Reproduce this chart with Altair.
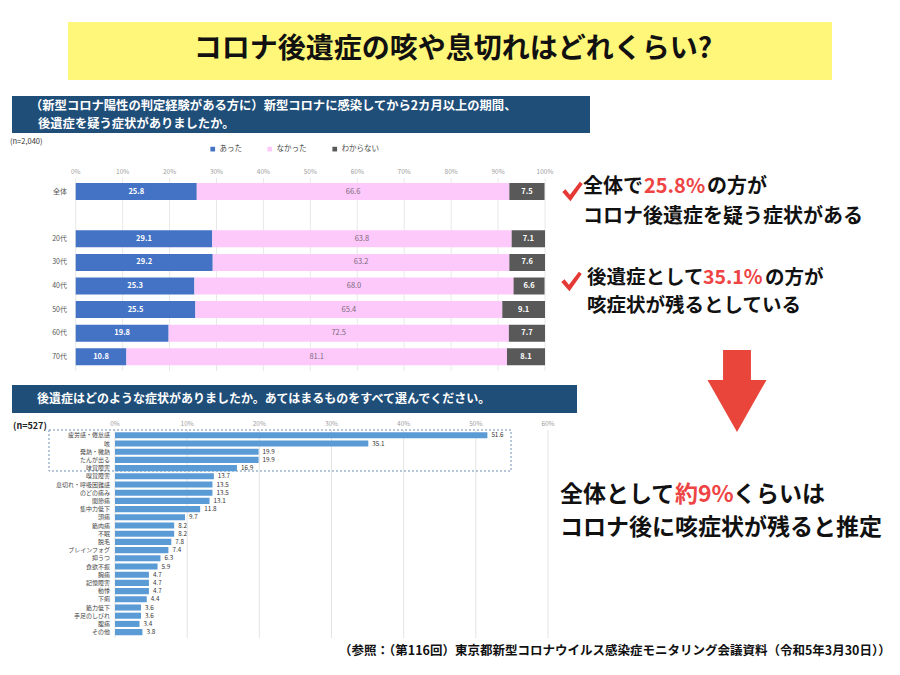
import altair as alt
import pandas as pd

FONT = "Noto Sans CJK JP"
OFF = 8


def P(v):
    return v - OFF


# ---------------- data ----------------
groups = ["全体", "20代", "30代", "40代", "50代", "60代", "70代"]
answers = ["あった", "なかった", "わからない"]
answer_colors = ["#4472c4", "#fdc9fa", "#595959"]
yes_vals = [25.8, 29.1, 29.2, 25.3, 25.5, 19.8, 10.8]
no_vals = [66.6, 63.8, 63.2, 68.0, 65.4, 72.5, 81.1]
unk_vals = [7.5, 7.1, 7.6, 6.6, 9.1, 7.7, 8.1]
ticks1 = [0, 10, 20, 30, 40, 50, 60, 70, 80, 90, 100]

symptoms = ["疲労感・倦怠感", "咳", "発熱・微熱", "たんが出る", "味覚障害", "嗅覚障害",
            "息切れ・呼吸困難感", "のどの痛み", "関節痛", "集中力低下", "頭痛", "筋肉痛",
            "不眠", "脱毛", "ブレインフォグ", "抑うつ", "食欲不振", "胸痛", "記憶障害",
            "動悸", "下痢", "筋力低下", "手足のしびれ", "腹痛", "その他"]
symptom_vals = [51.6, 35.1, 19.9, 19.9, 16.9, 13.7, 13.5, 13.5, 13.1, 11.8, 9.7, 8.2,
                8.2, 7.8, 7.4, 6.3, 5.9, 4.7, 4.7, 4.7, 4.4, 3.6, 3.6, 3.4, 3.8]
ticks2 = [0, 10, 20, 30, 40, 50, 60]

# ---------------- tables ----------------
rows = []
for g, a, b, c in zip(groups, yes_vals, no_vals, unk_vals):
    for i, (ans, v) in enumerate(zip(answers, [a, b, c])):
        rows.append({"group": g, "answer": ans, "ord": i, "pct": v})
df1 = pd.DataFrame(rows)
df_t1 = pd.DataFrame({"t": ticks1, "lab": [f"{t}%" for t in ticks1]})
df_g = pd.DataFrame({"group": groups})
df2 = pd.DataFrame({"sym": symptoms, "v": symptom_vals})
df_t2 = pd.DataFrame({"t": ticks2, "lab": [f"{t}%" for t in ticks2]})
one = pd.DataFrame({"k": [0]})

# ---------------- scales ----------------
dom1 = [groups[0], " "] + groups[1:]
xs1 = alt.Scale(domain=[0, 100], range=[P(75.7), P(545)], nice=False, zero=False)
yb1 = alt.Scale(type="band", domain=dom1, range=[P(179.8), P(368.6)], paddingInner=0.28, paddingOuter=0.14)
yp1 = alt.Scale(type="point", domain=dom1, range=[P(179.8), P(368.6)], padding=0.5)

xs2 = alt.Scale(domain=[0, 60], range=[P(115), P(548)], nice=False, zero=False)
yb2 = alt.Scale(type="band", domain=symptoms, range=[P(431.2), P(636.2)], paddingInner=0.26, paddingOuter=0.13)
yp2 = alt.Scale(type="point", domain=symptoms, range=[P(431.2), P(636.2)], padding=0.5)

layers = []


def box(x1, x2, y1, y2, color, **kw):
    return alt.Chart(one).mark_rect(color=color, **kw).encode(
        x=alt.value(P(x1)), x2=alt.value(P(x2)), y=alt.value(P(y1)), y2=alt.value(P(y2)))


def label(text, x, y, size, color="#111", weight="bold", align="left"):
    return alt.Chart(one).mark_text(text=text, font=FONT, fontSize=size, fontWeight=weight,
                                    color=color, align=align, baseline="middle").encode(
        x=alt.value(P(x)), y=alt.value(P(y)))


# ---------------- title ----------------
layers.append(box(68, 832, 22, 80, "#fff77a"))
layers.append(label("コロナ後遺症の咳や息切れはどれくらい?", 453, 50, 28, align="center"))

# ---------------- chart 1 ----------------
layers.append(box(12, 590, 96, 133, "#1f4e79"))
layers.append(label("（新型コロナ陽性の判定経験がある方に）新型コロナに感染してから2カ月以上の期間、", 30, 106, 12.3, "white"))
layers.append(label("後遺症を疑う症状がありましたか。", 38, 124, 12.3, "white"))
layers.append(label("(n=2,040)", 10, 142, 7.5, "#333", "normal"))

layers.append(alt.Chart(df_t1).mark_rule(color="#e8e8e8", strokeWidth=1).encode(
    x=alt.X("t:Q", scale=xs1, axis=None), y=alt.value(P(178)), y2=alt.value(P(371))))
layers.append(alt.Chart(df_t1).mark_text(font=FONT, fontSize=6.5, color="#a0a0a0").encode(
    x=alt.X("t:Q", scale=xs1, axis=None), y=alt.value(P(172)), text="lab:N"))

stacked = alt.Chart(df1).transform_stack(
    stack="pct", groupby=["group"], as_=["x0", "x1"], sort=[alt.SortField("ord", order="ascending")]
).transform_calculate(mid="(datum.x0 + datum.x1) / 2")

layers.append(stacked.mark_bar().encode(
    x=alt.X("x0:Q", scale=xs1, axis=None), x2="x1:Q",
    y=alt.Y("group:N", scale=yb1, axis=None),
    color=alt.Color("answer:N", scale=alt.Scale(domain=answers, range=answer_colors),
                    legend=alt.Legend(orient="none", legendX=P(209), legendY=P(145), direction="horizontal",
                                      title=None, symbolType="square", symbolSize=22, symbolStrokeWidth=0,
                                      labelFont=FONT, labelFontSize=7.5, labelColor="#444",
                                      columnPadding=24, labelOffset=3))))
layers.append(stacked.transform_filter(alt.datum.answer != "なかった").mark_text(
    font=FONT, fontSize=7.5, fontWeight="bold", color="white").encode(
    x=alt.X("mid:Q", scale=xs1, axis=None), y=alt.Y("group:N", scale=yp1, axis=None),
    text=alt.Text("pct:Q", format=".1f")))
layers.append(stacked.transform_filter(alt.datum.answer == "なかった").mark_text(
    font=FONT, fontSize=7.5, color="#7a6a7a").encode(
    x=alt.X("mid:Q", scale=xs1, axis=None), y=alt.Y("group:N", scale=yp1, axis=None),
    text=alt.Text("pct:Q", format=".1f")))
layers.append(alt.Chart(df_g).mark_text(font=FONT, fontSize=7, color="#555", align="right").encode(
    x=alt.value(P(67)), y=alt.Y("group:N", scale=yp1, axis=None), text="group:N"))

# ---------------- chart 2 ----------------
layers.append(box(12, 577, 385, 413, "#1f4e79"))
layers.append(label("後遺症はどのような症状がありましたか。あてはまるものをすべて選んでください。", 37, 399, 12, "white"))
layers.append(label("(n=527)", 13, 426, 9, "#222", "bold"))

layers.append(alt.Chart(df_t2).mark_rule(color="#e3e3e3", strokeWidth=1).encode(
    x=alt.X("t:Q", scale=xs2, axis=None), y=alt.value(P(430)), y2=alt.value(P(638))))
layers.append(alt.Chart(df_t2).mark_text(font=FONT, fontSize=6.5, color="#a0a0a0").encode(
    x=alt.X("t:Q", scale=xs2, axis=None), y=alt.value(P(424)), text="lab:N"))
layers.append(box(49, 511, 430, 471, "#6f8fb5", filled=False, strokeWidth=1, strokeDash=[2, 2]))
layers.append(alt.Chart(df2).mark_bar(color="#5b9bd5").encode(
    x=alt.X("v:Q", scale=xs2, axis=None), y=alt.Y("sym:N", scale=yb2, axis=None)))
layers.append(alt.Chart(df2).mark_text(font=FONT, fontSize=6.3, color="#333", align="left", dx=4).encode(
    x=alt.X("v:Q", scale=xs2, axis=None), y=alt.Y("sym:N", scale=yp2, axis=None),
    text=alt.Text("v:Q", format=".1f")))
layers.append(alt.Chart(df2).mark_text(font=FONT, fontSize=6, color="#444", align="right").encode(
    x=alt.value(P(110)), y=alt.Y("sym:N", scale=yp2, axis=None), text="sym:N"))

# ---------------- right annotations ----------------
RED = "#ee4444"
CHECK = "M-1,0.05 L-0.68,-0.22 L-0.25,0.32 L0.72,-0.95 L1,-0.72 L-0.2,0.95 Z"
for cx, cy in [(572.5, 191.5), (571.5, 281.5)]:
    layers.append(alt.Chart(one).mark_point(shape=CHECK, filled=True, opacity=1, size=420,
                                            color="#e53935", strokeWidth=0).encode(
        x=alt.value(P(cx)), y=alt.value(P(cy))))

layers.append(label("全体で", 583, 187, 20))
layers.append(label("25.8%", 644, 187, 20, RED))
layers.append(label("の方が", 707, 187, 20))
layers.append(label("コロナ後遺症を疑う症状がある", 583, 217, 20))
layers.append(label("後遺症として", 587, 278, 19.5))
layers.append(label("35.1%", 703, 278, 19.5, RED))
layers.append(label("の方が", 765, 278, 19.5))
layers.append(label("咳症状が残るとしている", 587, 306, 19.5))

ARROW = "M-0.34,-1 L0.34,-1 L0.34,-0.27 L0.72,-0.27 L0,1 L-0.72,-0.27 L-0.34,-0.27 Z"
layers.append(alt.Chart(one).mark_point(shape=ARROW, filled=True, opacity=1, size=6724,
                                        color="#e9453b", strokeWidth=0).encode(
    x=alt.value(P(737)), y=alt.value(P(391))))

layers.append(label("全体として", 560, 495, 23))
layers.append(label("約9%", 675, 495, 23, RED))
layers.append(label("くらいは", 733, 495, 23))
layers.append(label("コロナ後に咳症状が残ると推定", 560, 528, 23))

layers.append(label("（参照：（第116回）東京都新型コロナウイルス感染症モニタリング会議資料（令和5年3月30日））",
                    339, 651, 12.5))

chart = alt.layer(*layers).properties(
    width=884, height=659, padding=0, autosize=alt.AutoSizeParams(type="none"), background="white"
).resolve_scale(x="independent", y="independent", color="independent").configure_view(stroke=None)

chart.save("out.html", embed_options={"renderer": "svg", "actions": False})
